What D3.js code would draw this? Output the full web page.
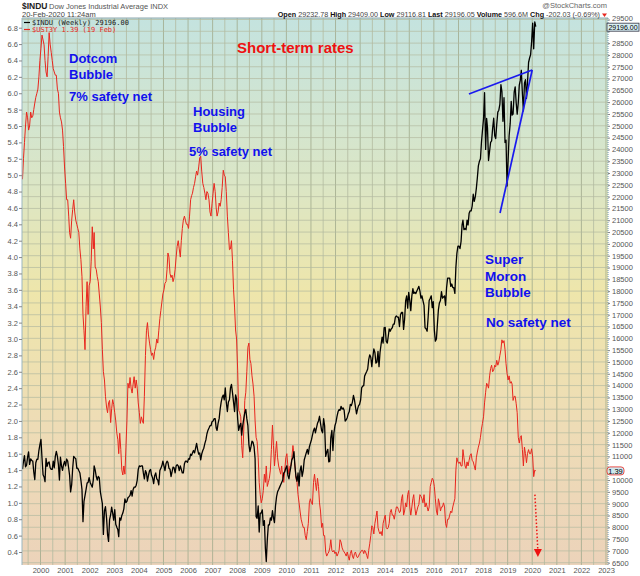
<!DOCTYPE html>
<html>
<head>
<meta charset="utf-8">
<script src="https://cdn.jsdelivr.net/npm/d3@7"></script>
<style>
  body { margin: 0; background: #fff; }
  svg { display: block; }
</style>
</head>
<body>
<div id="chart"></div>
<script>
// two points a month (around the 8th and the 23rd), starting April 1999
const startMonth = '1999-04'

// Dow Jones Industrial Average, right axis
const djia = [
  10460, 10790, 11030, 10560, 10630, 10970, 11190, 10660, 10900, 10830, 10800, 10340, 10020, 10730, 10880, 10880, 11250, 11500, // 1999
  11720, 10940, 10220, 10130, 9930, 10920, 10580, 10730, 10770, 10520, 10450, 10450, 10800, 10520, 11000, 11210, 11000, 10650, 10000, 10970, 10600, 10410, 10650, 10790, // 2000
  10600, 10890, 10800, 10490, 10200, 9500, 9800, 10500, 11000, 10950, 10900, 10500, 10500, 10400, 10300, 10000, 9600, 8240, 9100, 9340, 9600, 9870, 9900, 10100, // 2001
  9900, 9800, 9700, 10000, 10600, 10430, 10150, 10000, 10150, 10100, 9500, 9250, 9000, 7700, 8700, 8870, 8400, 7700, 7400, 8320, 8540, 8850, 8600, 8300, // 2002
  8750, 8130, 8000, 7900, 7600, 8400, 8300, 8500, 8600, 8780, 9200, 9050, 9100, 9250, 9300, 9350, 9550, 9320, 9600, 9700, 9700, 9780, 10000, 10450, // 2003
  10600, 10570, 10600, 10600, 10300, 10050, 10400, 10300, 9950, 10200, 10400, 10450, 10200, 10100, 9850, 10180, 10300, 10050, 10000, 9800, 10400, 10500, 10600, 10800, // 2004
  10600, 10400, 10700, 10800, 10750, 10500, 10460, 10150, 10350, 10550, 10520, 10300, 10600, 10650, 10600, 10400, 10600, 10450, 10300, 10300, 10690, 10800, 10800, 10750, // 2005
  10900, 10880, 11100, 11050, 11150, 11250, 11150, 11350, 11550, 11300, 11100, 11150, 10850, 11100, 11250, 11350, 11550, 11700, 11950, 12100, 12200, 12300, 12300, 12470, // 2006
  12500, 12600, 12600, 12200, 12100, 12400, 12600, 13000, 13300, 13500, 13600, 13400, 13900, 13300, 12900, 13300, 13400, 13900, 14050, 13700, 13300, 12900, 13600, 13450, // 2007
  12590, 12100, 12300, 12400, 11900, 12300, 12600, 12850, 12990, 12600, 12300, 11500, 11200, 11400, 11650, 11600, 11400, 10900, 8450, 8380, 8900, 7800, 8600, 8600, // 2008
  8740, 8080, 8280, 7100, 6550, 7450, 8100, 8100, 8400, 8300, 8700, 8400, 8200, 8900, 9300, 9500, 9600, 9700, 9800, 9900, 10000, 10300, 10350, 10500, // 2009
  10600, 10200, 10050, 10350, 10560, 10850, 10950, 11200, 10600, 10150, 9950, 10300, 9750, 10400, 10600, 10150, 10400, 10850, 11000, 11150, 11300, 11100, 11400, 11550, // 2010
  11700, 11900, 12100, 12200, 12000, 12200, 12400, 12500, 12700, 12400, 12100, 12000, 12600, 12300, 11000, 11180, 11300, 10770, 10800, 11800, 12100, 11250, 12000, 12300, // 2011
  12450, 12700, 12900, 12980, 12950, 13120, 13000, 13050, 12950, 12500, 12550, 12640, 12800, 12900, 13200, 13150, 13300, 13580, 13400, 13100, 12800, 13000, 13150, 13200, // 2012
  13400, 13900, 13980, 14000, 14400, 14500, 14600, 14700, 15100, 15300, 15200, 14800, 15200, 15550, 15400, 14950, 15000, 15450, 14800, 15400, 15750, 16050, 15800, 16450, // 2013
  16460, 15880, 15800, 16100, 16400, 16300, 16400, 16450, 16600, 16600, 16900, 16950, 16900, 16900, 16500, 17000, 17100, 17100, 16380, 16800, 17600, 17800, 17280, 17950, // 2014
  17600, 17170, 17800, 18100, 17900, 17950, 17900, 18000, 18100, 18200, 18000, 17700, 17800, 17600, 17400, 16450, 16400, 16300, 16900, 17600, 17700, 17800, 17300, 17550, // 2015
  16350, 15880, 15970, 16620, 17200, 17500, 17600, 17980, 17700, 17750, 17800, 17400, 18150, 18550, 18550, 18550, 18200, 18300, 18150, 18150, 17900, 19000, 19600, 19900, // 2016
  19900, 19800, 20100, 20800, 21000, 20600, 20650, 20600, 21000, 20800, 21300, 21400, 21400, 21600, 22100, 21800, 22000, 22350, 22800, 23300, 23500, 23600, 24300, 24800, // 2017
  25300, 26400, 24000, 25310, 24900, 23530, 23930, 24300, 24360, 24890, 25320, 24580, 24460, 25060, 25580, 25660, 25920, 26740, 26450, 25190, 26190, 24290, 24390, 22450, // 2018
  23530, 24580, 25100, 26030, 25450, 25500, 26420, 26650, 25970, 25490, 25980, 26720, 26920, 27350, 26370, 25630, 26800, 26950, 26160, 26830, 27680, 27870, 28010, 28550, // 2019
  29350, 28260, 29400, 29196 // 2020
]

// 3-year Treasury yield, left axis
const ust3y = [
  4.95, 5.20, 5.40, 5.60, 5.77, 5.70, 5.55, 5.60, 5.77, 5.70, 5.72, 5.80, 5.88, 5.95, 6.00, 6.05, 6.20, 6.40, // 1999
  6.55, 6.71, 6.65, 6.59, 6.40, 6.26, 6.20, 6.45, 6.74, 6.60, 6.50, 6.40, 6.30, 6.26, 6.22, 6.22, 6.05, 6.00, 5.77, 5.70, 5.65, 5.55, 5.35, 5.10, // 2000
  4.90, 4.70, 4.70, 4.50, 4.30, 4.23, 4.45, 4.58, 4.70, 4.55, 4.45, 4.40, 4.35, 4.30, 4.10, 3.97, 3.76, 3.30, 3.10, 2.87, 3.40, 3.70, 3.30, 3.65, // 2001
  3.70, 3.95, 4.37, 4.10, 4.30, 3.88, 3.85, 3.76, 3.70, 3.55, 3.39, 3.20, 2.87, 2.60, 2.50, 2.30, 2.17, 2.10, 2.22, 2.25, 1.98, 2.15, 2.26, 2.20, // 2002
  2.10, 2.00, 1.85, 1.77, 1.60, 1.85, 1.65, 1.40, 1.34, 1.45, 1.35, 1.68, 2.00, 2.46, 2.40, 2.53, 2.40, 2.34, 2.45, 2.54, 2.40, 2.50, 2.40, 2.22, // 2003
  2.10, 1.97, 2.05, 2.00, 1.97, 2.30, 2.80, 3.10, 3.20, 3.05, 2.95, 2.87, 2.80, 2.83, 2.75, 2.85, 2.90, 3.00, 2.95, 3.10, 3.25, 3.35, 3.45, 3.55, // 2004
  3.60, 3.68, 3.70, 3.85, 4.05, 4.00, 3.80, 3.75, 3.78, 3.70, 3.75, 3.85, 4.00, 4.13, 4.20, 4.10, 4.00, 4.20, 4.35, 4.45, 4.50, 4.45, 4.40, 4.40, // 2005
  4.35, 4.50, 4.70, 4.75, 4.78, 4.85, 4.90, 4.98, 5.05, 5.00, 5.10, 5.21, 5.23, 5.05, 4.90, 4.85, 4.78, 4.70, 4.80, 4.78, 4.70, 4.55, 4.50, 4.65, // 2006
  4.78, 4.90, 4.80, 4.60, 4.50, 4.55, 4.66, 4.62, 4.70, 4.85, 5.06, 5.00, 4.98, 4.80, 4.50, 4.30, 4.09, 4.10, 4.20, 3.96, 3.60, 3.39, 3.11, 3.00, // 2007
  2.62, 2.13, 2.10, 2.05, 1.70, 1.55, 1.90, 2.25, 2.35, 2.60, 2.90, 2.95, 2.75, 2.70, 2.55, 2.45, 2.30, 2.00, 1.80, 1.75, 1.55, 1.25, 1.10, 1.00, // 2008
  1.05, 1.15, 1.35, 1.25, 1.45, 1.20, 1.25, 1.30, 1.40, 1.65, 1.95, 1.70, 1.45, 1.60, 1.75, 1.55, 1.45, 1.40, 1.35, 1.45, 1.30, 1.25, 1.40, 1.55, // 2009
  1.60, 1.45, 1.35, 1.45, 1.45, 1.55, 1.70, 1.60, 1.45, 1.30, 1.25, 1.10, 1.00, 0.90, 0.80, 0.75, 0.70, 0.70, 0.60, 0.55, 0.65, 0.75, 1.00, 1.05, // 2010
  1.00, 0.98, 1.25, 1.35, 1.25, 1.15, 1.30, 1.20, 1.00, 0.90, 0.70, 0.75, 0.60, 0.60, 0.40, 0.35, 0.38, 0.40, 0.45, 0.55, 0.42, 0.40, 0.42, 0.38, // 2011
  0.40, 0.35, 0.38, 0.42, 0.55, 0.52, 0.45, 0.42, 0.40, 0.38, 0.35, 0.40, 0.35, 0.30, 0.38, 0.42, 0.35, 0.32, 0.38, 0.40, 0.35, 0.33, 0.35, 0.38, // 2012
  0.40, 0.42, 0.42, 0.38, 0.42, 0.40, 0.36, 0.32, 0.42, 0.50, 0.60, 0.72, 0.70, 0.62, 0.75, 0.82, 0.90, 0.70, 0.65, 0.62, 0.65, 0.60, 0.75, 0.80, // 2013
  0.85, 0.70, 0.68, 0.70, 0.75, 0.88, 0.92, 0.85, 0.85, 0.80, 0.88, 0.95, 0.95, 0.92, 0.88, 0.90, 1.05, 1.10, 0.85, 0.90, 1.00, 0.95, 1.10, 1.15, // 2014
  0.95, 0.85, 0.95, 1.05, 1.10, 0.95, 0.85, 0.90, 0.95, 0.98, 1.10, 1.08, 1.05, 1.00, 1.10, 0.95, 1.00, 0.95, 0.90, 0.95, 1.20, 1.25, 1.30, 1.28, // 2015
  1.20, 1.05, 0.90, 0.85, 1.05, 1.00, 0.90, 0.95, 0.95, 1.00, 0.95, 0.75, 0.70, 0.80, 0.80, 0.85, 0.90, 0.88, 0.95, 1.00, 1.05, 1.40, 1.55, 1.50, // 2016
  1.48, 1.50, 1.45, 1.45, 1.65, 1.55, 1.45, 1.42, 1.50, 1.45, 1.52, 1.58, 1.60, 1.52, 1.50, 1.45, 1.40, 1.55, 1.62, 1.68, 1.73, 1.80, 1.90, 1.97, // 2017
  2.05, 2.22, 2.35, 2.46, 2.44, 2.40, 2.55, 2.64, 2.68, 2.60, 2.62, 2.68, 2.66, 2.74, 2.68, 2.72, 2.80, 2.87, 2.99, 2.95, 2.98, 2.87, 2.70, 2.58, // 2018
  2.50, 2.55, 2.46, 2.48, 2.45, 2.25, 2.30, 2.30, 2.21, 2.10, 1.80, 1.73, 1.80, 1.82, 1.65, 1.45, 1.68, 1.60, 1.49, 1.60, 1.65, 1.60, 1.60, 1.66, // 2019
  1.56, 1.32, 1.40, 1.39 // 2020
]

const rateTicks = d3.range(4, 69, 2).map(d => d / 10) // 0.4 .. 6.8
const indexTicks = d3.range(6500, 29501, 500)
const hiddenIndexLabels = [29000, 10500] // sit under the last-value tags
const yearLabels = d3.range(2000, 2024)

const headerStats = [
  ['Open', '29232.78'], ['High', '29409.00'], ['Low', '29116.81'],
  ['Last', '29196.05'], ['Volume', '596.6M'], ['Chg', '-202.03 (-0.69%)'],
]

// annotations, in data units
const wedgeTop = [['2017-06-05', 26345], ['2020-01-01', 27362]]
const wedgeLow = [['2018-09-10', 21307], ['2020-01-01', 27362]]
const arrowLine = [['2020-02-10', 1.10], ['2020-03-25', 0.34]]

const notes = [
  { text: 'Short-term rates', x: 237, y: 53, size: 15, color: '#ee1111' },
  { text: 'Dotcom', x: 69, y: 63, size: 13, color: '#1111ee' },
  { text: 'Bubble', x: 69, y: 79, size: 13, color: '#1111ee' },
  { text: '7% safety net', x: 69, y: 101, size: 13, color: '#1111ee' },
  { text: 'Housing', x: 193, y: 116, size: 13, color: '#1111ee' },
  { text: 'Bubble', x: 193, y: 132, size: 13, color: '#1111ee' },
  { text: '5% safety net', x: 189, y: 156, size: 13, color: '#1111ee' },
  { text: 'Super', x: 485, y: 264, size: 13.5, color: '#1111ee' },
  { text: 'Moron', x: 485, y: 281, size: 13.5, color: '#1111ee' },
  { text: 'Bubble', x: 485, y: 297, size: 13.5, color: '#1111ee' },
  { text: 'No safety net', x: 486, y: 327, size: 13.5, color: '#1111ee' },
]

const width = 640, height = 576
const plot = { left: 22, right: 608, top: 18, bottom: 565 }
const font = 'Liberation Sans, Arial, sans-serif'
const mono = 'DejaVu Sans Mono, monospace'

const parseDay = d3.timeParse('%Y-%m-%d')
const start = d3.timeParse('%Y-%m')(startMonth)
const dateAt = i => d3.timeDay.offset(d3.timeMonth.offset(start, Math.floor(i / 2)), i % 2 ? 22 : 7)

const x = d3.scaleTime()
  .domain([new Date(1999, 3, 1), new Date(2023, 0, 31)])
  .range([plot.left, plot.right])
const yRate = d3.scaleLinear().domain([0.4, 6.8]).range([552, 27.7])
const yIndex = d3.scaleLinear().domain([6500, 29500]).range([562.7, 19.5])

const svg = d3.select('#chart').append('svg')
  .attr('width', width)
  .attr('height', height)
  .style('font-family', font)

const defs = svg.append('defs')
const grad = defs.append('linearGradient')
  .attr('id', 'bg').attr('x1', 0).attr('y1', 0).attr('x2', 0).attr('y2', 1)
;[[0, '#c4e3df'], [0.3, '#dbe6c6'], [0.5, '#eee6ab'], [0.75, '#eedcb6'], [1, '#ecd3ba']]
  .forEach(([o, c]) => grad.append('stop').attr('offset', o).attr('stop-color', c))
defs.append('clipPath').attr('id', 'clip').append('rect')
  .attr('x', plot.left).attr('y', plot.top)
  .attr('width', plot.right - plot.left).attr('height', plot.bottom - plot.top)

svg.append('rect')
  .attr('x', plot.left).attr('y', plot.top)
  .attr('width', plot.right - plot.left).attr('height', plot.bottom - plot.top)
  .attr('fill', 'url(#bg)')

// grid
const grid = svg.append('g').attr('clip-path', 'url(#clip)')
grid.selectAll('.vg')
  .data(d3.timeMonth.every(6).range(x.domain()[0], x.domain()[1]))
  .join('line')
  .attr('x1', d => x(d)).attr('x2', d => x(d))
  .attr('y1', plot.top).attr('y2', plot.bottom)
  .attr('stroke', d => d.getMonth() === 0 ? '#9fa98c' : '#b3baa0')
  .attr('stroke-width', 0.8)
grid.selectAll('.hg')
  .data(indexTicks)
  .join('line')
  .attr('x1', plot.left).attr('x2', plot.right)
  .attr('y1', d => yIndex(d)).attr('y2', d => yIndex(d))
  .attr('stroke', '#b3baa0')
  .attr('stroke-width', 0.7)

// series
const lines = svg.append('g').attr('clip-path', 'url(#clip)')
lines.append('path')
  .datum(ust3y)
  .attr('fill', 'none')
  .attr('stroke', '#e8261e')
  .attr('stroke-width', 1)
  .attr('stroke-linejoin', 'round')
  .attr('d', d3.line().x((d, i) => x(dateAt(i))).y(d => yRate(d)))
lines.append('path')
  .datum(djia)
  .attr('fill', 'none')
  .attr('stroke', '#000')
  .attr('stroke-width', 1.3)
  .attr('stroke-linejoin', 'round')
  .attr('d', d3.line().x((d, i) => x(dateAt(i))).y(d => yIndex(d)))

// frame
svg.append('line')
  .attr('x1', plot.left).attr('x2', plot.right).attr('y1', plot.top).attr('y2', plot.top)
  .attr('stroke', '#8fa7ad').attr('stroke-width', 1)
svg.append('line')
  .attr('x1', plot.left).attr('x2', plot.left).attr('y1', plot.top).attr('y2', plot.bottom)
  .attr('stroke', '#9bb6c0').attr('stroke-width', 1)
svg.append('line')
  .attr('x1', plot.right).attr('x2', plot.right).attr('y1', plot.top).attr('y2', plot.bottom)
  .attr('stroke', '#6f93a6').attr('stroke-width', 1).attr('stroke-dasharray', '1,1')

// axes
const axisText = g => g.selectAll('text').attr('fill', '#555').style('font-size', '7.5px').style('font-family', font)
svg.append('g')
  .attr('transform', `translate(${plot.left},0)`)
  .call(d3.axisLeft(yRate).tickValues(rateTicks).tickFormat(d3.format('.1f')).tickSize(3).tickPadding(1))
  .call(g => g.select('.domain').remove())
  .call(g => g.selectAll('line').attr('stroke', '#888'))
  .call(axisText)
svg.append('g')
  .attr('transform', `translate(${plot.right},0)`)
  .call(d3.axisRight(yIndex).tickValues(indexTicks)
    .tickFormat(d => hiddenIndexLabels.includes(d) ? '' : d3.format('d')(d))
    .tickSize(2).tickPadding(2))
  .call(g => g.select('.domain').remove())
  .call(g => g.selectAll('line').attr('stroke', '#888'))
  .call(axisText)
  .call(g => g.selectAll('text').filter(d => d === 29500).attr('dy', '0.1em'))
svg.append('g')
  .attr('transform', `translate(0,${plot.bottom})`)
  .call(d3.axisBottom(x).tickValues(yearLabels.map(y => new Date(y, 0, 1))).tickFormat(d3.timeFormat('%Y')).tickSize(0).tickPadding(3))
  .call(g => g.select('.domain').remove())
  .call(axisText)

// annotations
const trend = d3.line().x(d => x(parseDay(d[0]))).y(d => yIndex(d[1]))
;[wedgeTop, wedgeLow].forEach(seg => {
  svg.append('path').datum(seg)
    .attr('d', trend)
    .attr('stroke', '#1a1aee').attr('stroke-width', 1.7).attr('fill', 'none')
})
const ax0 = x(parseDay(arrowLine[0][0])), ay0 = yRate(arrowLine[0][1])
const ax1 = x(parseDay(arrowLine[1][0])), ay1 = yRate(arrowLine[1][1])
svg.append('line')
  .attr('x1', ax0).attr('y1', ay0).attr('x2', ax1).attr('y2', ay1 - 6)
  .attr('stroke', '#ee1111').attr('stroke-width', 1.5).attr('stroke-dasharray', '1.5,2')
svg.append('path')
  .attr('d', `M${ax1 - 4},${ay1 - 8}L${ax1 + 4},${ay1 - 8}L${ax1},${ay1}Z`)
  .attr('fill', '#ee1111')

svg.selectAll('.note')
  .data(notes)
  .join('text')
  .attr('x', d => d.x).attr('y', d => d.y)
  .attr('fill', d => d.color)
  .style('font-size', d => d.size + 'px')
  .style('font-weight', 'bold')
  .text(d => d.text)

// legend
const legend = svg.append('g').style('font-family', mono).style('font-size', '7px')
legend.append('line').attr('x1', 24).attr('x2', 30).attr('y1', 22.5).attr('y2', 22.5).attr('stroke', '#000').attr('stroke-width', 1.2)
legend.append('text').attr('x', 32).attr('y', 25).attr('fill', '#222').text(`$INDU (Weekly) ${djia[djia.length - 1].toFixed(2)}`)
legend.append('line').attr('x1', 24).attr('x2', 30).attr('y1', 29.5).attr('y2', 29.5).attr('stroke', '#e8261e').attr('stroke-width', 1.2)
legend.append('text').attr('x', 32).attr('y', 32).attr('fill', '#e8261e').text(`$UST3Y ${ust3y[ust3y.length - 1].toFixed(2)} (19 Feb)`)

// last value tags
const lastIdx = djia[djia.length - 1]
const tagY = yIndex(lastIdx) + 0.5
svg.append('rect').attr('x', 607).attr('y', tagY - 4).attr('width', 32).attr('height', 8)
  .attr('fill', '#d7eef2').attr('stroke', '#334').attr('stroke-width', 0.8)
svg.append('text').attr('x', 623).attr('y', tagY + 2.8).attr('text-anchor', 'middle')
  .style('font-size', '7px').attr('fill', '#000').text(lastIdx.toFixed(2))
const lastRate = ust3y[ust3y.length - 1]
const rateY = yRate(lastRate)
svg.append('rect').attr('x', 607).attr('y', rateY - 4).attr('width', 17).attr('height', 8).attr('rx', 3)
  .attr('fill', '#cfe8ef').attr('stroke', '#e8261e').attr('stroke-width', 0.8)
svg.append('text').attr('x', 615.5).attr('y', rateY + 2.8).attr('text-anchor', 'middle')
  .style('font-size', '7.5px').attr('fill', '#000').text(lastRate.toFixed(2))

// header
svg.append('text').attr('x', 22).attr('y', 9).style('font-size', '8.5px').style('font-weight', 'bold').attr('fill', '#222').text('$INDU')
svg.append('text').attr('x', 49).attr('y', 9).style('font-size', '7.5px').attr('fill', '#555').text('Dow Jones Industrial Average INDX')
svg.append('text').attr('x', 22).attr('y', 17).style('font-size', '7.5px').attr('fill', '#444').text('20-Feb-2020 11:24am')
svg.append('text').attr('x', 607).attr('y', 8).attr('text-anchor', 'end').style('font-size', '7.5px').attr('fill', '#666').text('@StockCharts.com')
const stats = svg.append('text').attr('x', 600).attr('y', 17).attr('text-anchor', 'end').style('font-size', '7.2px').attr('fill', '#444')
headerStats.forEach(([k, v], i) => {
  stats.append('tspan').style('font-weight', 'bold').attr('fill', '#111').text((i ? '  ' : '') + k + ' ')
  stats.append('tspan').text(v)
})
svg.append('path').attr('d', 'M602,13.5L607,13.5L604.5,17Z').attr('fill', '#e8261e')
</script>
</body>
</html>
